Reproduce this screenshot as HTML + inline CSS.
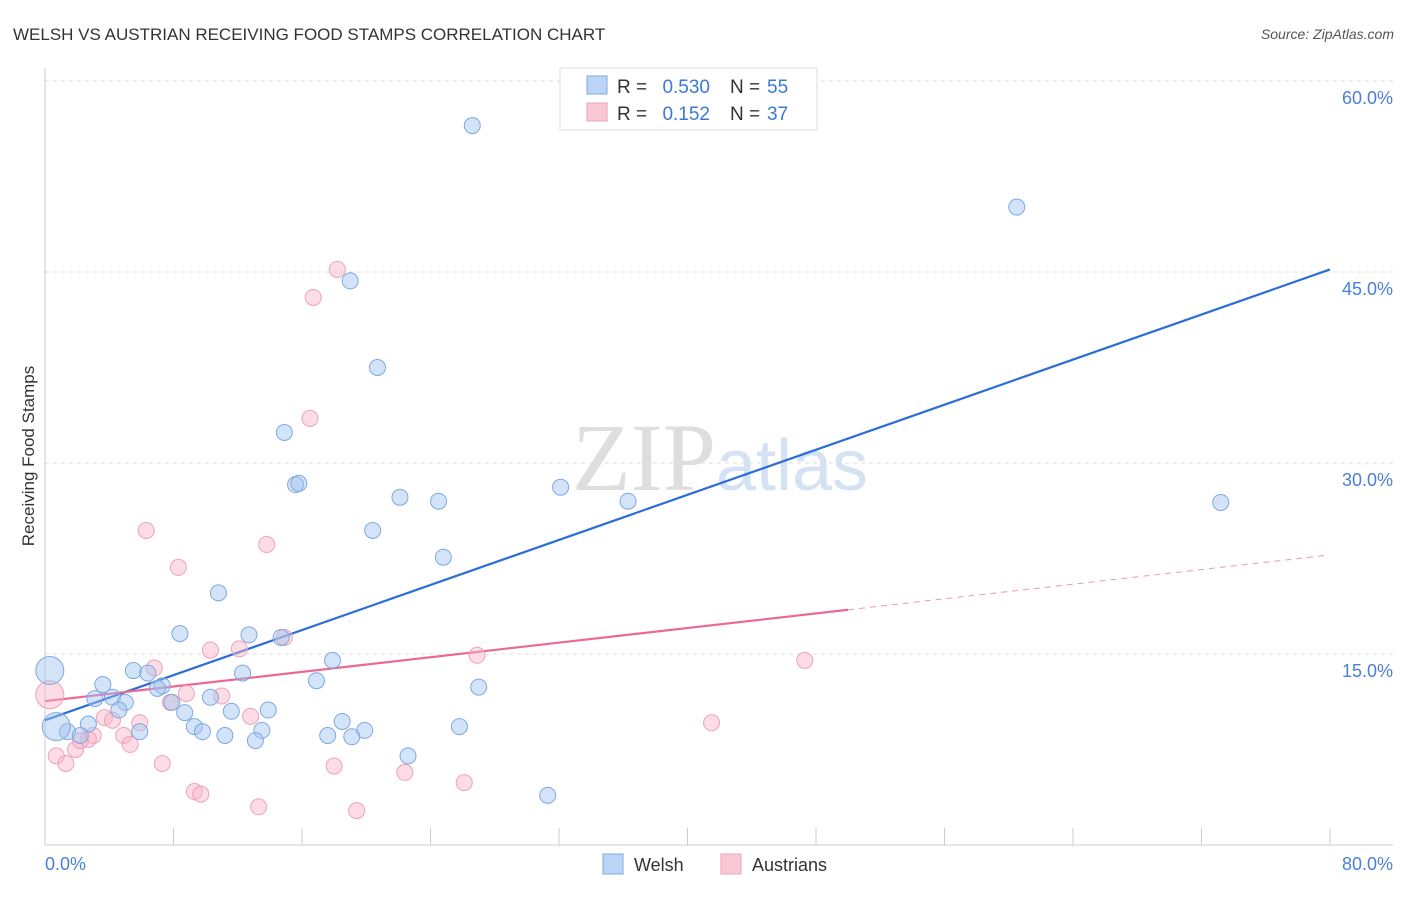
<!DOCTYPE html>
<html><head><meta charset="utf-8">
<style>
body{margin:0;background:#fff;font-family:"Liberation Sans",sans-serif;}
svg text{font-family:"Liberation Sans",sans-serif;}
</style></head>
<body>
<svg id="chart" width="1406" height="892" xmlns="http://www.w3.org/2000/svg">
<text x="13" y="40" font-size="17" fill="#333">WELSH VS AUSTRIAN RECEIVING FOOD STAMPS CORRELATION CHART</text>
<text x="1394" y="39" font-size="14" fill="#555" text-anchor="end" font-style="italic">Source: ZipAtlas.com</text>
<text x="720" y="490" font-size="96" text-anchor="middle" fill="#e6e6e6"><tspan font-family="Liberation Serif" fill="#dedede">ZIP</tspan><tspan fill="#d4e2f4" font-size="72">atlas</tspan></text>
<g id="grid"></g>
<g id="axes"></g>
<g id="trend"></g>
<g id="points"></g>
<text transform="translate(34,456) rotate(-90)" font-size="17" fill="#333" text-anchor="middle">Receiving Food Stamps</text>
<g font-size="19">
<rect x="560" y="68" width="257" height="62" fill="#fff" stroke="#ddd"/>
<rect x="587" y="76" width="20" height="18" fill="#bcd4f6" stroke="#7fa8e0"/>
<rect x="587" y="103" width="20" height="18" fill="#f9c8d6" stroke="#f0a0b8"/>
<text x="617" y="93" fill="#333">R =</text>
<text x="710" y="93" fill="#3b78d8" text-anchor="end">0.530</text>
<text x="730" y="93" fill="#333">N =</text>
<text x="767" y="93" fill="#3b78d8">55</text>
<text x="617" y="120" fill="#333">R =</text>
<text x="710" y="120" fill="#3b78d8" text-anchor="end">0.152</text>
<text x="730" y="120" fill="#333">N =</text>
<text x="767" y="120" fill="#3b78d8">37</text>
</g>
<g>
<rect x="603" y="854" width="20" height="20" fill="#bcd4f6" stroke="#7fa8e0"/>
<text x="634" y="871" font-size="18" fill="#333">Welsh</text>
<rect x="721" y="854" width="20" height="20" fill="#f9c8d6" stroke="#f0a0b8"/>
<text x="752" y="871" font-size="18" fill="#333">Austrians</text>
</g>
</svg>
<script>
const yTicks=[15,30,45,60];
const yTickLabels=["15.0%","30.0%","45.0%","60.0%"];
const welshX=[26.6,60.5,19.0,20.7,14.9,15.6,15.8,22.1,24.5,32.1,36.3,73.2,20.4,24.8,10.8,8.4,12.7,14.7,17.9,5.5,6.4,12.3,3.6,7.3,7.0,4.2,3.1,5.0,7.9,10.3,16.9,27.0,8.7,11.6,13.9,4.6,9.3,9.8,18.5,19.9,2.7,5.9,1.4,2.2,11.2,13.5,17.6,19.1,13.1,25.8,22.6,31.3,0.7,0.3];
const welshY=[56.5,50.1,44.3,37.5,32.4,28.3,28.4,27.3,27.0,28.1,27.0,26.9,24.7,22.6,19.8,16.6,16.5,16.3,14.5,13.7,13.5,13.5,12.6,12.5,12.3,11.6,11.5,11.2,11.2,11.6,12.9,12.4,10.4,10.5,10.6,10.6,9.3,8.9,9.7,9.0,9.5,8.9,8.9,8.6,8.6,9.0,8.6,8.5,8.2,9.3,7.0,3.9,9.3,13.7];
const welshBig=[52,53];
const austX=[18.2,16.7,16.5,6.3,13.8,8.3,10.3,12.1,14.9,26.9,47.3,6.8,0.3,8.8,11.0,7.8,3.7,5.9,4.2,12.8,41.5,4.9,3.0,2.7,1.9,5.3,0.7,1.3,7.3,18.0,22.4,26.1,9.3,9.7,13.3,19.4,2.2];
const austY=[45.2,43.0,33.5,24.7,23.6,21.8,15.3,15.4,16.3,14.9,14.5,13.9,11.8,11.9,11.7,11.2,10.0,9.6,9.8,10.1,9.6,8.6,8.6,8.3,7.5,7.9,7.0,6.4,6.4,6.2,5.7,4.9,4.2,4.0,3.0,2.7,8.2];
const austBig=[12];
const welshTrend=[9.8,0.4425];
const austTrend=[11.3,0.1435];
const NS="http://www.w3.org/2000/svg";
const X=v=>45+v*1285/80, Y=v=>845-v*191/15;
function mk(t,a,p){const e=document.createElementNS(NS,t);for(const k in a)e.setAttribute(k,a[k]);document.getElementById(p).appendChild(e);return e;}
yTicks.forEach((t,i)=>{
 const g=mk('line',{x1:45,x2:1393,y1:Y(t),y2:Y(t),stroke:'#ddd','stroke-dasharray':'4,4'},'grid');
 
 
 const tx=mk('text',{x:1393,y:Y(t)+23,'font-size':18,fill:'#4a7fd8','text-anchor':'end'},'grid');
 tx.textContent=yTickLabels[i];
 
 
});
mk('line',{x1:45,x2:45,y1:68,y2:845,stroke:'#ccc'},'axes');
mk('line',{x1:45,x2:1393,y1:845,y2:845,stroke:'#ccc'},'axes');
for(let i=0;i<=10;i++){const t=mk('line',{x1:X(i*8),x2:X(i*8),y1:828,y2:845,stroke:'#ccc'},'axes');
 
 }
let l0=mk('text',{x:45,y:870,'font-size':18,fill:'#4a7fd8'},'axes');l0.textContent='0.0%';


let l1=mk('text',{x:1393,y:870,'font-size':18,fill:'#4a7fd8','text-anchor':'end'},'axes');l1.textContent='80.0%';


function dots(xs,ys,big,fill,stroke,name){xs.forEach((x,i)=>{const c=mk('circle',{cx:X(x),cy:Y(ys[i]),r:big.includes(i)?14:8,fill:fill,stroke:stroke,'stroke-width':1},'points');
 
 });}
dots(austX,austY,austBig,'rgba(248,180,200,0.45)','#eea2b9','austrians-point');
dots(welshX,welshY,welshBig,'rgba(160,195,240,0.45)','#7fa8e0','welsh-point');
const wl=mk('line',{x1:X(0),y1:Y(welshTrend[0]),x2:X(80),y2:Y(welshTrend[0]+80*welshTrend[1]),stroke:'#2b6fd6','stroke-width':2.2},'trend');


const al=mk('line',{x1:X(0),y1:Y(austTrend[0]),x2:X(50),y2:Y(austTrend[0]+50*austTrend[1]),stroke:'#e86a94','stroke-width':2.2},'trend');


const ad=mk('line',{x1:X(50),y1:Y(austTrend[0]+50*austTrend[1]),x2:X(79.7),y2:Y(austTrend[0]+79.7*austTrend[1]),stroke:'#e89ab4','stroke-width':1,'stroke-dasharray':'6,5'},'trend');


</script>
</body></html>
